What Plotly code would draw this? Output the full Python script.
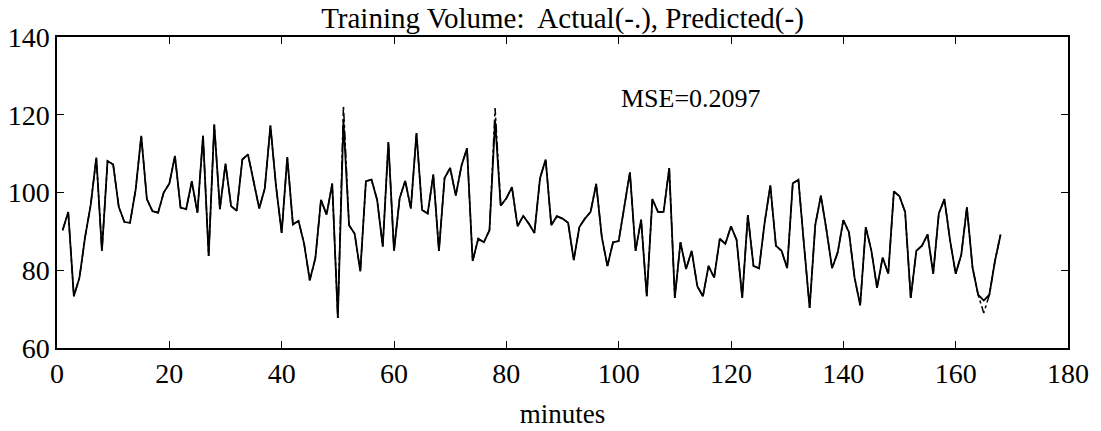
import plotly.graph_objects as go

minutes = list(range(1, 169))

predicted = [
    90.3, 95.0, 73.3, 78.1, 88.5, 96.8, 109.0, 85.0, 108.1, 107.2,
    96.3, 92.4, 92.2, 100.7, 114.6, 98.3, 95.2, 94.8, 100.0, 102.3,
    109.4, 96.1, 95.7, 102.9, 94.8, 114.6, 83.7, 117.5, 95.7, 107.4,
    96.5, 95.3, 108.5, 109.8, 102.9, 95.9, 101.1, 117.2, 101.6, 89.6,
    109.1, 91.8, 92.7, 86.8, 77.4, 83.1, 98.1, 94.3, 102.3, 67.7,
    118.5, 91.6, 89.4, 79.7, 102.9, 103.3, 98.1, 86.1, 113.0, 85.0,
    98.5, 103.0, 95.9, 115.3, 95.5, 94.6, 104.6, 85.0, 103.7, 106.3,
    99.2, 106.8, 111.4, 82.4, 88.1, 87.2, 90.3, 118.5, 96.6, 98.5,
    101.4, 91.3, 94.0, 92.0, 89.6, 103.7, 108.5, 91.6, 93.9, 93.3,
    92.2, 82.6, 91.1, 93.3, 95.0, 102.2, 88.5, 81.1, 87.2, 87.5,
    96.3, 105.2, 85.0, 93.0, 73.3, 98.3, 95.0, 95.0, 106.3, 72.9,
    87.2, 80.3, 85.0, 75.9, 73.3, 81.1, 78.1, 88.1, 86.8, 91.3,
    87.8, 72.9, 94.2, 81.1, 80.5, 92.4, 101.8, 86.3, 85.0, 80.5,
    102.4, 103.3, 86.5, 70.3, 91.6, 99.2, 90.3, 80.5, 84.6, 92.9,
    89.8, 78.1, 71.0, 91.1, 85.0, 75.5, 83.3, 79.1, 100.3, 99.0,
    95.0, 72.9, 85.0, 86.3, 89.2, 79.1, 94.6, 98.3, 87.7, 79.1,
    84.0, 96.2, 80.7, 73.7, 72.2, 73.7, 82.4, 89.2,
]

actual = list(predicted)
actual[50] = 122.4
actual[77] = 121.7
actual[164] = 69.0

title_text = "Training Volume:&nbsp; Actual(-.), Predicted(-)"
mse_text = "MSE=0.2097"
x_ticks = [0, 20, 40, 60, 80, 100, 120, 140, 160, 180]
y_ticks = [60, 80, 100, 120, 140]

SERIF = "Liberation Serif, Times New Roman, Times, serif"

fig = go.Figure()
fig.add_trace(go.Scatter(x=minutes, y=actual, mode="lines",
                         line=dict(color="black", width=1.5, dash="dashdot"),
                         name="Actual", showlegend=False))
fig.add_trace(go.Scatter(x=minutes, y=predicted, mode="lines",
                         line=dict(color="black", width=1.8),
                         name="Predicted", showlegend=False))

fig.add_annotation(x=100, y=124.2, text=mse_text, showarrow=False,
                   xanchor="left", yanchor="middle",
                   font=dict(family=SERIF, size=26, color="black"))

axis_common = dict(showgrid=False, zeroline=False, showline=True, linecolor="black",
                   linewidth=1.5, mirror="ticks", ticks="inside", ticklen=7,
                   tickcolor="black", tickwidth=1, automargin=False,
                   tickfont=dict(family=SERIF, size=28, color="black"))

fig.update_layout(
    width=1101, height=431,
    margin=dict(l=57, r=33, t=37, b=83, autoexpand=False),
    paper_bgcolor="white", plot_bgcolor="white",
    font=dict(family=SERIF, color="black"),
    title=dict(text=title_text, x=0.5, xref="paper", yref="container",
               y=0.958, yanchor="middle", automargin=False,
               font=dict(family=SERIF, size=29, color="black")),
    xaxis=dict(range=[0, 180], tickvals=x_ticks, ticktext=[str(v) for v in x_ticks],
               title=dict(text="minutes", standoff=16,
                          font=dict(family=SERIF, size=27, color="black")),
               **axis_common),
    yaxis=dict(range=[60, 140], tickvals=y_ticks, ticktext=[str(v) for v in y_ticks],
               **axis_common),
)

fig.write_html("out.html")
